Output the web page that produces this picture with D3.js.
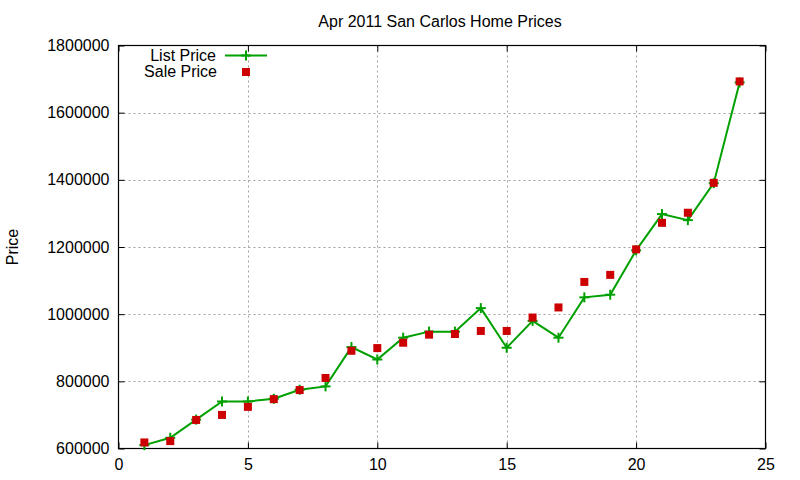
<!DOCTYPE html>
<html><head><meta charset="utf-8">
<script src="https://cdn.jsdelivr.net/npm/d3@7"></script>
<style>body{margin:0;background:#fff;} svg{display:block;font-family:"Liberation Sans",Arial,sans-serif;}</style>
</head><body>
<svg id="c" width="800" height="480"></svg>
<script>
const months = [1,2,3,4,5,6,7,8,9,10,11,12,13,14,15,16,17,18,19,20,21,22,23,24];
const listPrice = [610000,632000,686000,740000,740000,748000,775000,785000,902000,865000,930000,948000,948000,1018000,900000,980000,930000,1050000,1058000,1190000,1298000,1280000,1390000,1690000];
const salePrice = [618000,622000,685000,700000,724000,747000,774000,810000,891000,899000,915000,939000,941000,950000,950000,990000,1020000,1096000,1117000,1193000,1272000,1302000,1391000,1693000];
const xTicks = [0,5,10,15,20,25];
const yTicks = [600000,800000,1000000,1200000,1400000,1600000,1800000];
const title = "Apr 2011 San Carlos Home Prices";
const yLabel = "Price";
const seriesNames = ["List Price","Sale Price"];

const svg = d3.select("#c");
const L=118.5, R=765.5, T=45.5, B=448.5;
const x = d3.scaleLinear().domain([0,25]).range([L,R]);
const y = d3.scaleLinear().domain([600000,1800000]).range([B,T]);

// grid
const grid = svg.append("g").attr("stroke","#a0a0a0").attr("stroke-width",1).attr("stroke-dasharray","2,3");
xTicks.slice(1,-1).forEach(t=>grid.append("line").attr("x1",Math.round(x(t))+0.5).attr("x2",Math.round(x(t))+0.5).attr("y1",T).attr("y2",B));
yTicks.slice(1,-1).forEach(t=>grid.append("line").attr("y1",Math.round(y(t))+0.5).attr("y2",Math.round(y(t))+0.5).attr("x1",L).attr("x2",R));

// axes
const tk = 6;
const xb = svg.append("g").attr("transform",`translate(0,${B})`).call(d3.axisBottom(x).tickValues(xTicks).tickSize(-tk).tickPadding(10).tickFormat(d3.format("d")));
const xt = svg.append("g").attr("transform",`translate(0,${T})`).call(d3.axisTop(x).tickValues(xTicks).tickSize(-tk).tickFormat(""));
const yl = svg.append("g").attr("transform",`translate(${L},0)`).call(d3.axisLeft(y).tickValues(yTicks).tickSize(-tk).tickPadding(9).tickFormat(d3.format("d")));
const yr = svg.append("g").attr("transform",`translate(${R},0)`).call(d3.axisRight(y).tickValues(yTicks).tickSize(-tk).tickFormat(""));
[xb,xt,yl,yr].forEach(g=>{
  g.select(".domain").remove();
  g.selectAll("line").attr("stroke","#000").attr("stroke-width",1);
  g.selectAll("text").attr("font-size",16).attr("fill","#000").attr("font-family","Liberation Sans, Arial, sans-serif");
});
svg.append("rect").attr("x",L).attr("y",T).attr("width",R-L).attr("height",B-T).attr("fill","none").attr("stroke","#000").attr("stroke-width",1.2);

// title & labels
svg.append("text").attr("x",440).attr("y",27).attr("text-anchor","middle").attr("font-size",16).text(title);
svg.append("text").attr("transform","translate(18,247) rotate(-90)").attr("text-anchor","middle").attr("font-size",16).text(yLabel);

// list price line
const green="#00a000", red="#cc0000";
const data = months.map((m,i)=>({m, l:listPrice[i], s:salePrice[i]}));
svg.append("path").datum(data).attr("fill","none").attr("stroke",green).attr("stroke-width",2)
  .attr("d",d3.line().x(d=>x(d.m)).y(d=>y(d.l)));
const plus = (g,cx,cy)=>{
  g.append("line").attr("x1",cx-5).attr("x2",cx+5).attr("y1",cy).attr("y2",cy).attr("stroke",green).attr("stroke-width",2);
  g.append("line").attr("x1",cx).attr("x2",cx).attr("y1",cy-5).attr("y2",cy+5).attr("stroke",green).attr("stroke-width",2);
};
const pg = svg.append("g");
data.forEach(d=>plus(pg,x(d.m),y(d.l)));
svg.append("g").selectAll("rect").data(data).join("rect")
  .attr("x",d=>x(d.m)-4).attr("y",d=>y(d.s)-4).attr("width",8).attr("height",8).attr("fill",red);

// legend
const lg = svg.append("g");
lg.append("text").attr("x",216).attr("y",61).attr("text-anchor","end").attr("font-size",16).text(seriesNames[0]);
lg.append("text").attr("x",217).attr("y",77).attr("text-anchor","end").attr("font-size",16).text(seriesNames[1]);
lg.append("line").attr("x1",225).attr("x2",267).attr("y1",55.5).attr("y2",55.5).attr("stroke",green).attr("stroke-width",2);
plus(lg,246,55.5);
lg.append("rect").attr("x",242).attr("y",68).attr("width",8).attr("height",8).attr("fill",red);
</script>
</body></html>
